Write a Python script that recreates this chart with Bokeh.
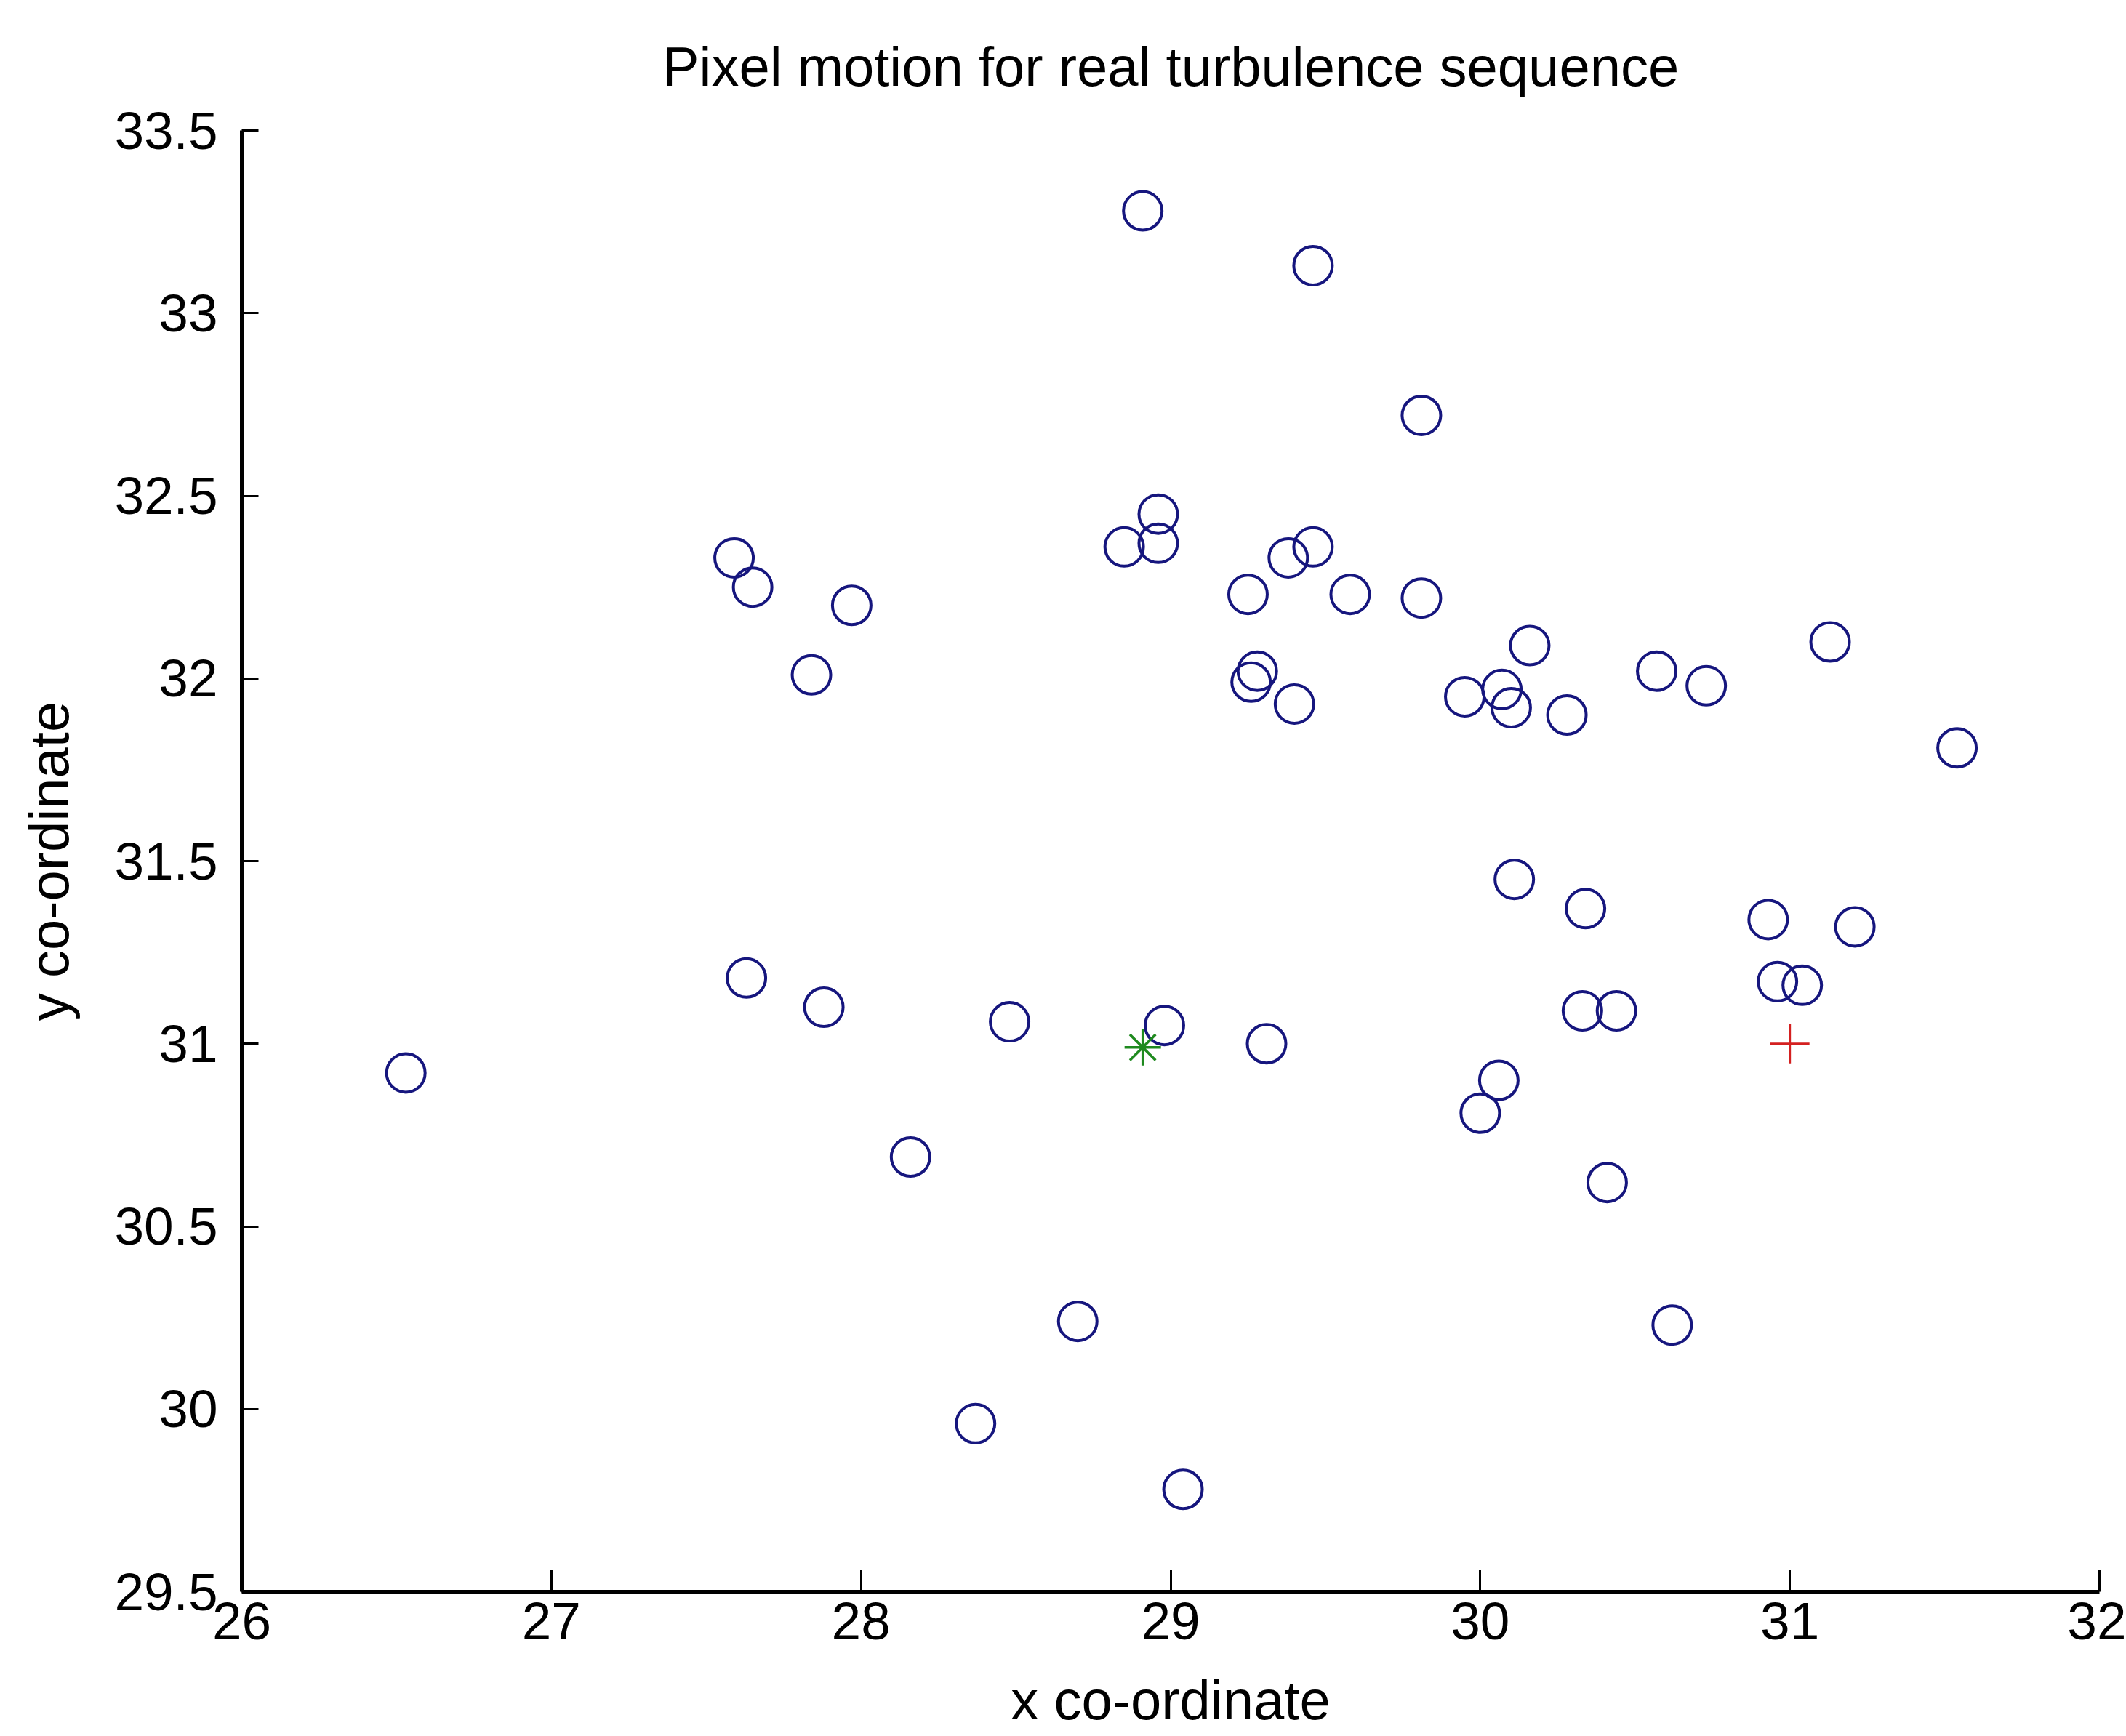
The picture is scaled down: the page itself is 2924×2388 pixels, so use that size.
from bokeh.plotting import figure
from bokeh.models import Range1d, FixedTicker, NumeralTickFormatter
from bokeh.embed import file_html
from bokeh.resources import INLINE

# ---- data ----
x_pts = [28.91, 29.46, 29.81, 28.96, 28.96, 28.85, 27.59, 27.65, 27.97, 29.38,
         29.46, 29.25, 29.58, 29.81, 30.16, 31.13, 27.84, 29.26, 29.28, 29.40,
         29.95, 30.07, 30.10, 30.28, 30.57, 30.73, 31.54, 30.11, 30.34, 30.93,
         31.21, 30.96, 31.04, 30.33, 30.44, 27.63, 27.88, 28.48, 28.98, 29.31,
         26.53, 30.06, 30.00, 28.16, 30.41, 28.70, 30.62, 28.37, 29.04]
y_pts = [33.28, 33.13, 32.72, 32.45, 32.37, 32.36, 32.33, 32.25, 32.20, 32.33,
         32.36, 32.23, 32.23, 32.22, 32.09, 32.10, 32.01, 31.99, 32.02, 31.93,
         31.95, 31.97, 31.92, 31.90, 32.02, 31.98, 31.81, 31.45, 31.37, 31.34,
         31.32, 31.17, 31.16, 31.09, 31.09, 31.18, 31.10, 31.06, 31.05, 31.00,
         30.92, 30.90, 30.81, 30.69, 30.62, 30.24, 30.23, 29.96, 29.78]
star_x = [28.91]
star_y = [30.99]
plus_x = [31.0]
plus_y = [31.0]
x_ticks = [26, 27, 28, 29, 30, 31, 32]
y_ticks = [29.5, 30, 30.5, 31, 31.5, 32, 32.5, 33, 33.5]

FONT = "'Liberation Sans', Arial, sans-serif"

p = figure(width=2924, height=2388,
           x_range=Range1d(26, 32), y_range=Range1d(29.5, 33.5),
           output_backend="svg", toolbar_location=None,
           min_border_left=332, min_border_right=37,
           min_border_top=179, min_border_bottom=199,
           title="Pixel motion for real turbulence sequence")

p.background_fill_color = "white"
p.border_fill_color = "white"
p.outline_line_color = None
p.xgrid.grid_line_color = None
p.ygrid.grid_line_color = None

p.title.align = "center"
p.title.text_font = FONT
p.title.text_font_size = "76px"
p.title.text_font_style = "normal"
p.title.text_color = "black"
p.title.standoff = 92

for ax in (p.xaxis[0], p.yaxis[0]):
    ax.axis_line_color = "black"
    ax.axis_line_width = 5
    ax.major_tick_line_color = "black"
    ax.major_tick_line_width = 3
    ax.major_tick_out = 0
    ax.minor_tick_line_color = None
    ax.major_label_text_font = FONT
    ax.major_label_text_font_size = "73px"
    ax.major_label_text_color = "black"
    ax.axis_label_text_font = FONT
    ax.axis_label_text_font_size = "76px"
    ax.axis_label_text_font_style = "normal"
    ax.axis_label_text_color = "black"
    ax.formatter = NumeralTickFormatter(format="0.[0]")

p.xaxis[0].ticker = FixedTicker(ticks=x_ticks)
p.yaxis[0].ticker = FixedTicker(ticks=y_ticks)
p.xaxis[0].major_tick_in = 30
p.yaxis[0].major_tick_in = 23
p.xaxis[0].major_label_standoff = 15
p.xaxis[0].axis_label_standoff = 38
p.yaxis[0].major_label_standoff = 33
p.yaxis[0].axis_label_standoff = 44
p.xaxis[0].axis_label = "x co-ordinate"
p.yaxis[0].axis_label = "y co-ordinate"

p.scatter(x_pts, y_pts, marker="circle", size=53, fill_color=None,
          line_color="#16167e", line_width=4)
p.scatter(star_x, star_y, marker="asterisk", size=50,
          line_color="#1f8a1f", line_width=3.5)
p.scatter(plus_x, plus_y, marker="cross", size=54,
          line_color="#d42020", line_width=3)

open("out.html", "w").write(file_html(p, INLINE))
